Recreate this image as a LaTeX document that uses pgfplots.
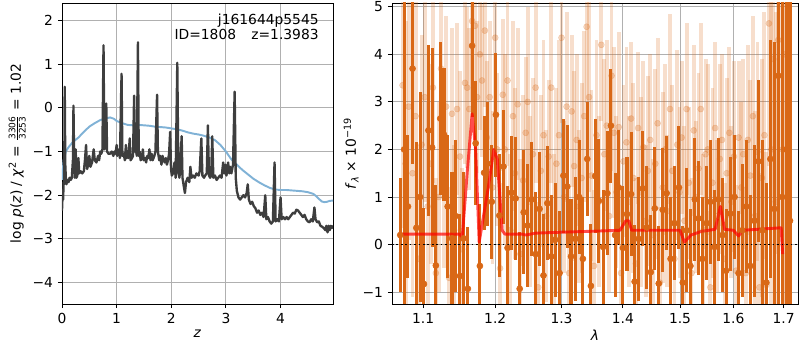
\documentclass[border=0pt]{standalone}
\usepackage{amsmath}
\usepackage{fontspec}
\setmainfont{DejaVu Sans}
\usepackage{pgfplots}
\pgfplotsset{compat=1.18}
\definecolor{dorange}{RGB}{217,104,22}
\definecolor{gridgray}{RGB}{176,176,176}
\definecolor{pzblue}{RGB}{128,178,214}
\definecolor{pzblack}{RGB}{62,62,62}
\pgfplotsset{mystyle/.style={scale only axis, grid=major,
  grid style={gridgray, line width=0.6pt},
  tick align=outside, tick pos=left, major tick length=3pt,
  axis line style={line width=0.6pt},
  every tick/.style={black, line width=0.6pt},
  tick label style={font=\fontsize{10}{12}\selectfont},
  label style={font=\fontsize{10}{12}\selectfont},
  /pgf/number format/assume math mode=true}}

\pgfplotstableread{
x y e
1.070 0.2 1.2
1.075 2.0 4.5
1.080 0.8 1.5
1.086 3.7 2.0
1.091 0.35 1.8
1.096 1.0 2.2
1.101 -0.83 1.6
1.107 2.4 1.8
1.112 2.04 2.1
1.117 -0.44 1.7
1.123 2.65 1.6
1.128 2.31 1.4
1.133 0.8 1.5
1.139 0.13 1.4
1.144 0.6 1.6
1.150 -0.66 1.3
1.155 0.13 1.4
1.161 -0.93 1.3
1.167 4.18 1.5
1.172 2.13 1.3
1.178 -0.45 1.3
1.184 1.51 1.2
1.189 1.70 1.3
1.195 0.9 1.2
1.201 2.73 1.3
1.206 0.61 1.3
1.212 1.64 1.2
1.218 -0.07 1.3
1.224 1.09 1.2
1.230 0.97 1.3
1.236 -0.93 1.2
1.242 0.68 1.3
1.248 0.4 1.3
1.254 0.95 1.2
1.260 -0.2 1.3
1.266 0.75 1.2
1.272 -0.65 1.3
1.278 0.87 1.2
1.284 -0.25 1.3
1.290 0.1 1.2
1.297 -0.6 1.3
1.303 1.45 1.2
1.309 1.22 1.3
1.315 -0.25 1.2
1.322 0.12 1.3
1.328 1.0 1.2
1.334 -0.3 1.3
1.341 1.8 1.2
1.347 -0.87 1.3
1.354 1.44 1.2
1.360 0.92 1.3
1.367 -0.05 1.2
1.374 1.08 1.3
1.380 2.5 1.2
1.387 0.2 1.3
1.393 1.2 1.2
1.400 -0.07 1.3
1.407 0.64 1.2
1.414 1.06 1.3
1.420 -0.78 1.2
1.427 0.12 1.3
1.434 1.18 1.2
1.441 0.36 1.3
1.448 -0.58 1.2
1.455 0.76 1.3
1.462 -0.82 1.2
1.469 0.73 1.3
1.476 1.08 1.2
1.483 -0.3 1.3
1.490 0.45 1.2
1.498 1.2 1.3
1.505 -0.8 1.2
1.512 0.3 1.3
1.519 -0.45 1.2
1.527 0.95 1.3
1.534 0.55 1.2
1.541 -0.3 1.3
1.549 0.45 1.2
1.556 0.9 1.3
1.564 -0.05 1.2
1.571 0.95 1.3
1.579 0.2 1.2
1.586 -0.55 1.3
1.594 0.65 1.2
1.602 1.0 1.3
1.610 -0.6 1.3
1.617 0.3 1.4
1.625 0.8 1.4
1.633 -0.45 1.5
1.641 0.5 1.6
1.649 1.75 1.7
1.657 0.3 1.9
1.665 -0.8 2.1
1.673 1.8 2.5
1.681 0.75 3.5
1.689 3.55 5.0
1.697 1.0 7.0
1.705 2.0 8.0
1.713 0.5 8.0
}\darkdata

\pgfplotstableread{
x y e
1.073 3.35 3.0
1.077 1.7 3.0
1.081 2.9 2.8
1.086 1.5 2.6
1.090 2.7 2.5
1.094 -0.3 2.4
1.098 2.1 2.3
1.102 3.1 2.2
1.106 0.8 2.2
1.110 1.7 2.1
1.113 3.3 2.0
1.117 -0.6 2.0
1.121 1.0 2.0
1.124 3.7 2.0
1.128 1.4 1.9
1.131 2.9 1.9
1.135 -0.7 1.9
1.139 2.75 1.8
1.142 0.3 1.8
1.146 2.85 1.8
1.150 1.85 1.8
1.153 -0.1 1.7
1.157 3.4 1.7
1.160 3.3 1.7
1.163 2.85 1.7
1.167 4.7 1.7
1.171 4.6 1.6
1.174 3.1 1.6
1.178 4.0 1.6
1.181 3.45 1.6
1.185 4.5 1.6
1.188 2.25 1.6
1.192 3.1 1.6
1.196 1.2 1.6
1.200 4.35 1.6
1.203 2.0 1.6
1.207 -0.5 1.8
1.211 3.15 1.6
1.214 2.0 2.0
1.218 3.45 1.8
1.222 0.3 1.6
1.226 2.7 2.0
1.229 1.5 1.8
1.233 2.95 1.6
1.237 -0.2 2.0
1.241 1.35 1.8
1.245 2.35 1.6
1.248 3.0 2.0
1.252 0.9 1.8
1.256 1.9 1.6
1.260 3.3 2.0
1.264 -0.9 1.8
1.268 1.55 1.6
1.272 2.3 2.0
1.276 0.6 1.8
1.280 1.85 1.6
1.284 3.3 2.0
1.288 0.1 1.8
1.292 1.7 1.6
1.296 2.3 2.0
1.300 4.35 1.8
1.304 1.0 1.6
1.308 2.9 2.0
1.312 -0.6 1.8
1.316 2.8 1.6
1.320 1.65 2.0
1.324 2.2 1.8
1.328 0.8 1.6
1.332 1.4 2.0
1.336 2.7 1.8
1.340 4.58 1.6
1.344 3.1 2.0
1.348 1.45 1.8
1.352 -0.45 1.6
1.356 2.3 2.0
1.360 0.9 1.8
1.364 4.2 1.6
1.369 1.9 2.0
1.373 2.5 1.8
1.377 0.6 1.6
1.381 3.55 2.0
1.385 2.35 1.8
1.389 1.1 1.6
1.393 2.47 2.0
1.397 -0.6 1.8
1.401 1.75 1.6
1.406 2.15 2.0
1.410 0.9 1.8
1.414 2.65 1.6
1.418 1.4 2.0
1.422 -0.4 1.8
1.426 2.45 1.6
1.431 1.1 2.0
1.435 2.05 1.8
1.439 0.5 1.6
1.443 1.55 2.0
1.447 2.2 1.8
1.452 0.2 1.6
1.456 1.7 2.0
1.460 2.55 1.8
1.464 -0.8 1.6
1.469 1.2 2.0
1.473 2.0 1.8
1.477 0.7 1.6
1.482 2.85 2.0
1.486 1.55 1.8
1.490 -0.3 1.6
1.495 2.1 2.0
1.499 1.1 1.8
1.503 2.25 1.6
1.508 0.5 2.0
1.512 2.85 1.8
1.516 1.3 1.6
1.521 -0.6 2.0
1.525 2.4 1.8
1.529 1.0 1.6
1.534 1.6 2.0
1.538 2.85 1.8
1.543 0.3 1.6
1.547 1.9 2.0
1.551 2.0 1.8
1.556 -0.9 1.6
1.560 1.3 2.0
1.565 2.45 1.8
1.569 0.6 1.6
1.574 1.8 2.0
1.578 2.2 1.8
1.583 -0.3 1.6
1.587 1.5 2.0
1.592 2.35 1.8
1.596 0.9 1.6
1.601 1.85 2.0
1.605 -0.55 1.8
1.610 2.25 1.6
1.615 1.2 1.8
1.619 1.9 2.0
1.624 -0.6 1.8
1.628 2.2 2.0
1.633 1.45 2.0
1.638 2.7 2.1
1.642 0.6 2.2
1.647 1.95 2.3
1.651 -0.9 2.4
1.656 1.4 2.5
1.661 2.3 2.6
1.665 -0.85 2.8
1.670 4.65 3.0
1.675 2.0 3.3
1.679 3.9 3.6
1.684 0.9 4.0
1.689 4.3 4.5
1.693 5.3 5.0
1.698 2.0 6.0
1.703 4.0 7.0
1.708 1.0 8.0
}\lightdata

\begin{document}
\begin{tikzpicture}
\useasboundingbox (0,0) rectangle (8in,3.5in);
% ---------------- left panel ----------------
\begin{axis}[mystyle, at={(0.62in,0.46in)}, anchor=south west,
  width=2.71in, height=3.01in,
  xmin=0, xmax=4.96, ymin=-4.49, ymax=2.40,
  xtick={0,1,2,3,4}, ytick={-4,-3,-2,-1,0,1,2},
  yticklabels={−4,−3,−2,−1,0,1,2},
  xlabel={\textit{z}},
  ylabel={log \textit{p}(\textit{z}) / \textit{χ}\textsuperscript{2} = $\genfrac{}{}{0.4pt}{}{\mbox{\fontsize{6.5}{7}\selectfont 3306}}{\mbox{\fontsize{6.5}{7}\selectfont 3253}}$ = 1.02},
  ylabel style={yshift=-2pt},
  xlabel style={yshift=2pt}]
\addplot[pzblue, line width=1.4pt] coordinates {
(0.00,-1.65) (0.03,-1.2) (0.07,-1.0) (0.12,-0.9) (0.20,-0.78) (0.30,-0.68)
(0.40,-0.55) (0.50,-0.43) (0.60,-0.35) (0.70,-0.28) (0.80,-0.24) (0.88,-0.22)
(0.95,-0.25) (1.00,-0.30) (1.10,-0.35) (1.20,-0.39) (1.30,-0.40) (1.40,-0.39)
(1.50,-0.40) (1.60,-0.41) (1.70,-0.43) (1.80,-0.44) (1.90,-0.45) (2.00,-0.47)
(2.10,-0.49) (2.20,-0.52) (2.30,-0.56) (2.40,-0.59) (2.50,-0.61) (2.60,-0.64)
(2.70,-0.68) (2.80,-0.74) (2.90,-0.85) (3.00,-1.00) (3.10,-1.18) (3.20,-1.30)
(3.30,-1.42) (3.40,-1.52) (3.50,-1.62) (3.60,-1.70) (3.70,-1.77) (3.80,-1.83)
(3.90,-1.87) (4.00,-1.88) (4.10,-1.88) (4.20,-1.89) (4.30,-1.90) (4.40,-1.91)
(4.50,-1.93) (4.60,-1.97) (4.65,-2.02) (4.70,-2.08) (4.75,-2.14) (4.80,-2.16)
(4.85,-2.15) (4.90,-2.13) (4.97,-2.12)};
\addplot[pzblack, line width=1.7pt, line join=round] coordinates {
(0.000,-2.35) (0.010,-2.0) (0.020,-2.1) (0.030,-1.7) (0.040,-1.75) (0.050,0.48)
(0.060,-1.3) (0.070,-1.6) (0.080,-1.75) (0.100,-1.65) (0.120,-1.7) (0.140,-1.6)
(0.160,-1.65) (0.180,-1.6) (0.200,-1.2) (0.210,0.05) (0.220,-1.0) (0.235,-1.6)
(0.250,-0.95) (0.265,-1.6) (0.280,-1.55) (0.300,-1.15) (0.315,-1.5) (0.340,-1.45)
(0.370,-1.5) (0.400,-1.45) (0.420,-1.2) (0.440,-0.85) (0.460,-1.4) (0.480,-1.3)
(0.500,-1.1) (0.520,-1.35) (0.550,-1.25) (0.580,-0.95) (0.600,-1.2) (0.630,-1.25)
(0.660,-1.1) (0.680,-1.2) (0.700,-1.0) (0.720,-1.05) (0.740,-0.95) (0.760,1.43)
(0.775,-0.95) (0.790,-0.8) (0.810,0.10) (0.825,-1.0) (0.850,-1.05) (0.880,-1.05)
(0.910,-1.0) (0.940,-1.1) (0.960,-1.0) (0.980,-1.05) (1.000,-0.85) (1.010,-1.1)
(1.040,-0.95) (1.060,-1.15) (1.090,0.78) (1.105,-1.1) (1.130,-1.05) (1.150,-1.2)
(1.170,-0.85) (1.185,-1.15) (1.200,-1.0) (1.215,-1.15) (1.240,-0.7) (1.255,-1.2)
(1.280,-1.15) (1.300,-1.1) (1.320,0.28) (1.335,-1.0) (1.350,-0.95) (1.370,-1.1)
(1.390,1.50) (1.405,-1.1) (1.420,-1.0) (1.440,-1.2) (1.460,-1.15) (1.480,-0.95)
(1.495,-1.2) (1.520,-1.15) (1.540,-1.25) (1.560,-1.1) (1.580,-1.15) (1.600,-0.95)
(1.620,-1.2) (1.640,-1.05) (1.660,-1.2) (1.690,-1.1) (1.710,-1.0) (1.740,0.30)
(1.755,-1.0) (1.780,-1.2) (1.800,-1.1) (1.820,-1.3) (1.840,-1.1) (1.860,-1.2)
(1.880,-1.25) (1.900,-1.15) (1.920,-1.3) (1.940,-1.2) (1.960,-1.05) (1.980,-0.55)
(1.995,-1.4) (2.010,-1.55) (2.030,-1.5) (2.060,-1.25) (2.080,-1.6) (2.110,1.03)
(2.130,-1.5) (2.150,-1.6) (2.170,-1.2) (2.190,-0.65) (2.205,-1.6) (2.230,-1.8)
(2.250,-1.95) (2.270,-1.7) (2.300,-1.6) (2.330,-1.7) (2.350,-1.35) (2.370,-1.6)
(2.400,-1.55) (2.430,-1.6) (2.460,-1.5) (2.500,-1.55) (2.520,-1.45) (2.550,-0.70)
(2.570,-1.55) (2.600,-1.6) (2.620,-1.55) (2.650,-1.5) (2.670,-0.40) (2.690,-1.55)
(2.710,-1.6) (2.730,-1.55) (2.750,-0.65) (2.770,-1.6) (2.800,-1.55) (2.830,-1.65)
(2.860,-1.6) (2.890,-1.55) (2.920,-1.6) (2.950,-1.25) (2.970,-1.5) (2.990,-1.3)
(3.010,-1.55) (3.040,-1.25) (3.060,-1.5) (3.080,-1.35) (3.100,-1.5) (3.130,-1.3)
(3.160,0.37) (3.180,-1.6) (3.200,-1.9) (3.230,-2.05) (3.260,-2.1) (3.290,-2.05)
(3.320,-2.0) (3.350,-2.05) (3.380,-1.95) (3.400,-1.75) (3.420,-2.1) (3.450,-2.2)
(3.480,-2.15) (3.510,-2.25) (3.540,-2.3) (3.570,-2.4) (3.600,-2.35) (3.630,-2.45)
(3.660,-2.4) (3.690,-2.5) (3.720,-2.0) (3.740,-2.55) (3.770,-2.5) (3.800,-2.6)
(3.830,-2.65) (3.860,-2.6) (3.890,-1.25) (3.910,-2.6) (3.940,-2.55) (3.970,-2.6)
(4.000,-2.05) (4.020,-2.55) (4.050,-2.5) (4.080,-2.55) (4.110,-2.5) (4.140,-2.55)
(4.170,-2.5) (4.200,-2.45) (4.230,-2.4) (4.260,-2.42) (4.290,-2.33) (4.320,-2.35)
(4.350,-2.4) (4.380,-2.45) (4.410,-2.5) (4.440,-2.45) (4.470,-2.55) (4.500,-2.6)
(4.530,-2.62) (4.560,-2.55) (4.590,-2.6) (4.620,-2.28) (4.640,-2.55) (4.670,-2.62)
(4.700,-2.6) (4.730,-2.7) (4.760,-2.72) (4.790,-2.75) (4.820,-2.8) (4.840,-2.7)
(4.860,-2.85) (4.880,-2.7) (4.900,-2.8) (4.920,-2.7) (4.940,-2.75) (4.970,-2.7)};
\node[anchor=north east, align=right, font=\fontsize{10}{11}\selectfont, inner sep=0pt]
  at (rel axis cs:0.948,0.965) {j161644p5545\\ID=1808\hspace{1.1em}z=1.3983};
\end{axis}
% ---------------- right panel ----------------
\begin{axis}[mystyle, at={(3.92in,0.46in)}, anchor=south west,
  width=4.06in, height=3.01in,
  xmode=log, xmin=1.0594, xmax=1.7297, ymin=-1.25, ymax=5.08,
  xtick={1.1,1.2,1.3,1.4,1.5,1.6,1.7},
  xticklabels={1.1,1.2,1.3,1.4,1.5,1.6,1.7},
  minor xtick={}, 
  ytick={-1,0,1,2,3,4,5},
  yticklabels={−1,0,1,2,3,4,5},
  xlabel={\textit{λ}},
  ylabel={\textit{f}\raisebox{-0.35ex}{\fontsize{7}{8}\selectfont\textit{λ}} × 10\textsuperscript{−19}},
  ylabel style={yshift=-4pt},
  xlabel style={yshift=2pt}]
\addplot[dorange, only marks, mark=*, mark size=2.2pt,
  mark options={fill=dorange, draw=none, opacity=0.25},
  error bars/.cd, y dir=both, y explicit,
  error mark=none,
  error bar style={dorange, opacity=0.22, line width=2.8pt}]
  table[x=x, y=y, y error=e] {\lightdata};
\addplot[dorange, only marks, mark=*, mark size=2.2pt,
  mark options={fill=dorange, draw=none},
  error bars/.cd, y dir=both, y explicit,
  error mark=none,
  error bar style={dorange, line width=2.2pt}]
  table[x=x, y=y, y error=e] {\darkdata};
\addplot[red, opacity=0.7, line width=2.1pt, line join=round] coordinates {
(1.072,0.22) (1.150,0.22) (1.153,0.12) (1.160,1.5) (1.167,2.75) (1.172,2.0)
(1.177,0.05) (1.190,1.2) (1.198,2.0) (1.203,1.8) (1.210,0.3) (1.214,0.22)
(1.240,0.22) (1.245,0.20) (1.260,0.24) (1.300,0.26) (1.350,0.28) (1.395,0.30)
(1.405,0.50) (1.410,0.50) (1.415,0.30) (1.500,0.30) (1.508,0.05) (1.520,0.20)
(1.540,0.28) (1.565,0.32) (1.575,0.80) (1.583,0.32) (1.600,0.30) (1.610,0.18)
(1.618,0.30) (1.690,0.35) (1.695,0.35) (1.698,-0.20)};
\addplot[black, dotted, line width=1.2pt] coordinates {(1.0594,0) (1.7297,0)};
\node[anchor=center, font=\fontsize{4.5}{5}\selectfont]
  at (rel axis cs:0.864,-0.116) {Sat Apr 25 17:23:07 2020};
\end{axis}
\end{tikzpicture}
\end{document}
